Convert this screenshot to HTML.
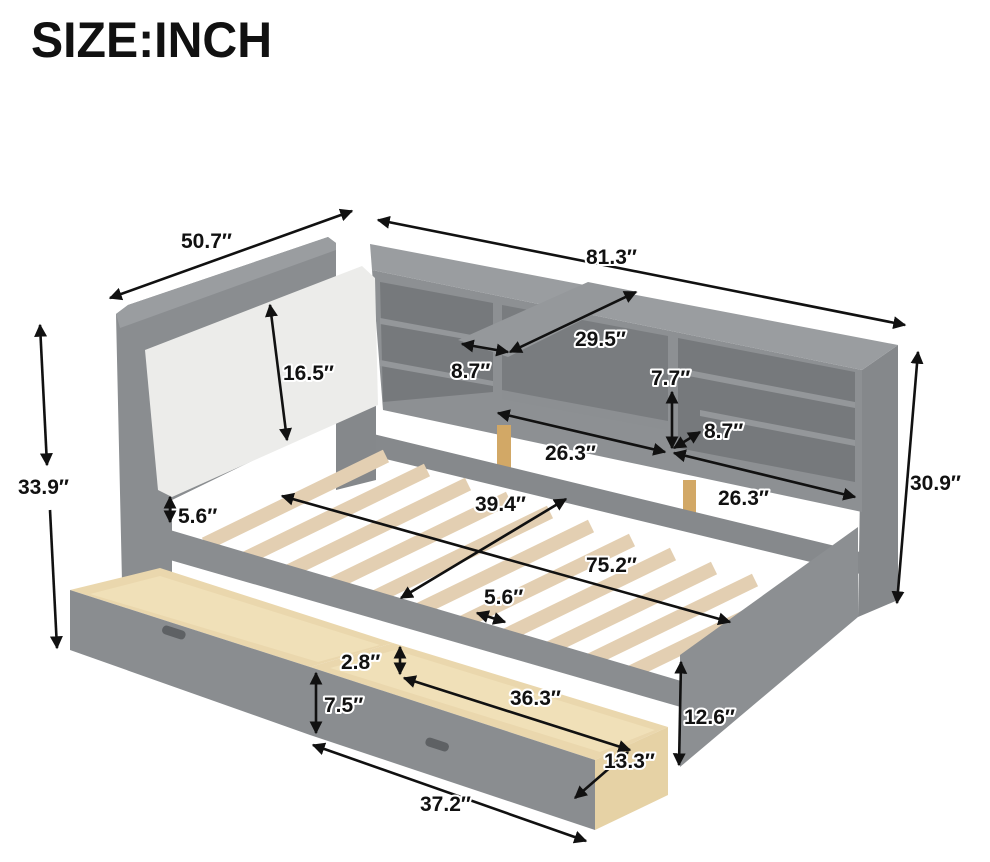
<!DOCTYPE html>
<html><head><meta charset="utf-8"><style>
html,body{margin:0;padding:0;background:#fff;}
svg{display:block;}
.t{font-family:"Liberation Sans",sans-serif;font-size:21px;font-weight:bold;fill:#111;paint-order:stroke;stroke:#fff;stroke-width:4px;stroke-linejoin:round;}
.d{stroke:#111;stroke-width:2.6;fill:none;marker-start:url(#a);marker-end:url(#a);}
</style></head><body>
<svg width="990" height="862" viewBox="0 0 990 862" xmlns="http://www.w3.org/2000/svg">
<defs>
<marker id="a" viewBox="0 0 10 10" refX="9" refY="5" markerWidth="5" markerHeight="5" orient="auto-start-reverse" markerUnits="strokeWidth"><path d="M0,0 L10,5 L0,10 Z" fill="#111"/></marker>
</defs>
<text x="31" y="57" font-family="Liberation Sans, sans-serif" font-size="50" font-weight="bold" fill="#111" textLength="241" lengthAdjust="spacingAndGlyphs">SIZE:INCH</text>

<polygon points="898,345 898,600 858,617 862,370" fill="#85888b"/>
<polygon points="372,270 862,370 862,512 383,410" fill="#8d9093"/>
<polygon points="380,282 493,303 493,392 383,402" fill="#76797c"/>
<polygon points="502,305 668,336 668,427 502,396" fill="#797c7f"/>
<polygon points="678,338 855,372 855,482 678,448" fill="#76797c"/>
<polygon points="380,318 493,339 493,344 380,324" fill="#94979a"/>
<polygon points="380,360 493,381 493,386 380,366" fill="#94979a"/>
<polygon points="678,368 855,402 855,408 678,374" fill="#94979a"/>
<polygon points="700,410 855,440 855,446 700,416" fill="#94979a"/>
<polygon points="502,390 668,421 668,430 502,399" fill="#8c8f92"/>
<polygon points="370,244 898,345 862,370 372,270" fill="#9a9da0"/>
<polygon points="458,340 588,282 638,292 508,357" fill="#95989b"/>
<rect x="497" y="425" width="14" height="47" fill="#d2a866"/>
<rect x="683" y="480" width="13" height="34" fill="#d2a866"/>
<polygon points="365,432 860,552 860,574 365,454" fill="#86898c"/>
<polygon points="336,400 376,395 376,480 336,490" fill="#85888b"/>
<polygon points="116,314 128,305 328,237 336,243 336,420 172,500 172,592 122,582" fill="#8a8d90"/>
<polygon points="116,314 128,305 328,237 336,243 336,250 120,328" fill="#9a9da0"/>
<polygon points="145,350 362,266 375,278 378,405 172,497 158,490" fill="#ececea"/>
<g stroke="#e3cfb2" stroke-width="14">
<line x1="205" y1="544" x2="386" y2="456"/>
<line x1="246" y1="558" x2="427" y2="470"/>
<line x1="287" y1="572" x2="468" y2="484"/>
<line x1="328" y1="586" x2="509" y2="498"/>
<line x1="369" y1="600" x2="550" y2="512"/>
<line x1="410" y1="614" x2="591" y2="526"/>
<line x1="451" y1="628" x2="632" y2="540"/>
<line x1="492" y1="642" x2="673" y2="554"/>
<line x1="533" y1="656" x2="714" y2="568"/>
<line x1="574" y1="668" x2="755" y2="580"/>
<line x1="615" y1="680" x2="780" y2="600"/>
</g>
<polygon points="170,530 698,686 698,712 170,560" fill="#8a8d90"/>
<polygon points="680,655 858,527 858,617 680,767" fill="#8c8f92"/>
<polygon points="70,590 160,568 393,643 310,667" fill="#ead7ad"/>
<polygon points="90,594 160,576 380,645 318,662" fill="#f0e0b8"/>
<polygon points="70,590 310,667 310,735 70,650" fill="#8a8d90"/>
<rect x="162" y="628" width="24" height="9" rx="4" fill="#5e6164" transform="rotate(18 174 632)"/>
<polygon points="310,667 393,643 668,727 595,760" fill="#ead7ad"/>
<polygon points="330,668 395,650 655,730 600,752" fill="#f0e0b8"/>
<polygon points="595,760 668,727 668,795 595,830" fill="#e6d2a5"/>
<polygon points="310,667 595,760 595,830 310,735" fill="#8a8d90"/>
<rect x="425" y="740" width="24" height="9" rx="4" fill="#5e6164" transform="rotate(18 437 745)"/>

<line class="d" x1="110" y1="298" x2="352" y2="211"/>
<line class="d" x1="378" y1="220" x2="905" y2="325"/>
<line class="d" x1="40" y1="325" x2="47" y2="465"/>
<line class="d" x1="50" y1="510" x2="57" y2="648" style="marker-start:none"/>
<line class="d" x1="918" y1="352" x2="897" y2="603"/>
<line class="d" x1="270" y1="305" x2="287" y2="440"/>
<line class="d" x1="170" y1="497" x2="170" y2="522"/>
<line class="d" x1="462" y1="344" x2="508" y2="352"/>
<line class="d" x1="510" y1="352" x2="636" y2="292"/>
<line class="d" x1="672" y1="392" x2="672" y2="448"/>
<line class="d" x1="674" y1="448" x2="700" y2="432"/>
<line class="d" x1="498" y1="413" x2="665" y2="452"/>
<line class="d" x1="674" y1="453" x2="855" y2="497"/>
<line class="d" x1="401" y1="598" x2="566" y2="499"/>
<line class="d" x1="282" y1="496" x2="730" y2="622"/>
<line class="d" x1="477" y1="613" x2="505" y2="622"/>
<line class="d" x1="400" y1="647" x2="400" y2="674"/>
<line class="d" x1="404" y1="678" x2="630" y2="750"/>
<line class="d" x1="316" y1="673" x2="316" y2="733"/>
<line class="d" x1="681" y1="662" x2="679" y2="765"/>
<line class="d" x1="628" y1="752" x2="575" y2="798"/>
<line class="d" x1="313" y1="745" x2="586" y2="841"/>

<text class="t" x="181" y="248">50.7″</text>
<text class="t" x="586" y="264">81.3″</text>
<text class="t" x="18" y="494">33.9″</text>
<text class="t" x="910" y="490">30.9″</text>
<text class="t" x="283" y="380">16.5″</text>
<text class="t" x="178" y="523">5.6″</text>
<text class="t" x="451" y="378">8.7″</text>
<text class="t" x="575" y="346">29.5″</text>
<text class="t" x="651" y="385">7.7″</text>
<text class="t" x="704" y="438">8.7″</text>
<text class="t" x="545" y="460">26.3″</text>
<text class="t" x="718" y="505">26.3″</text>
<text class="t" x="475" y="511">39.4″</text>
<text class="t" x="586" y="572">75.2″</text>
<text class="t" x="484" y="604">5.6″</text>
<text class="t" x="341" y="669">2.8″</text>
<text class="t" x="510" y="705">36.3″</text>
<text class="t" x="324" y="712">7.5″</text>
<text class="t" x="684" y="724">12.6″</text>
<text class="t" x="604" y="768">13.3″</text>
<text class="t" x="420" y="811">37.2″</text>
</svg>
</body></html>
